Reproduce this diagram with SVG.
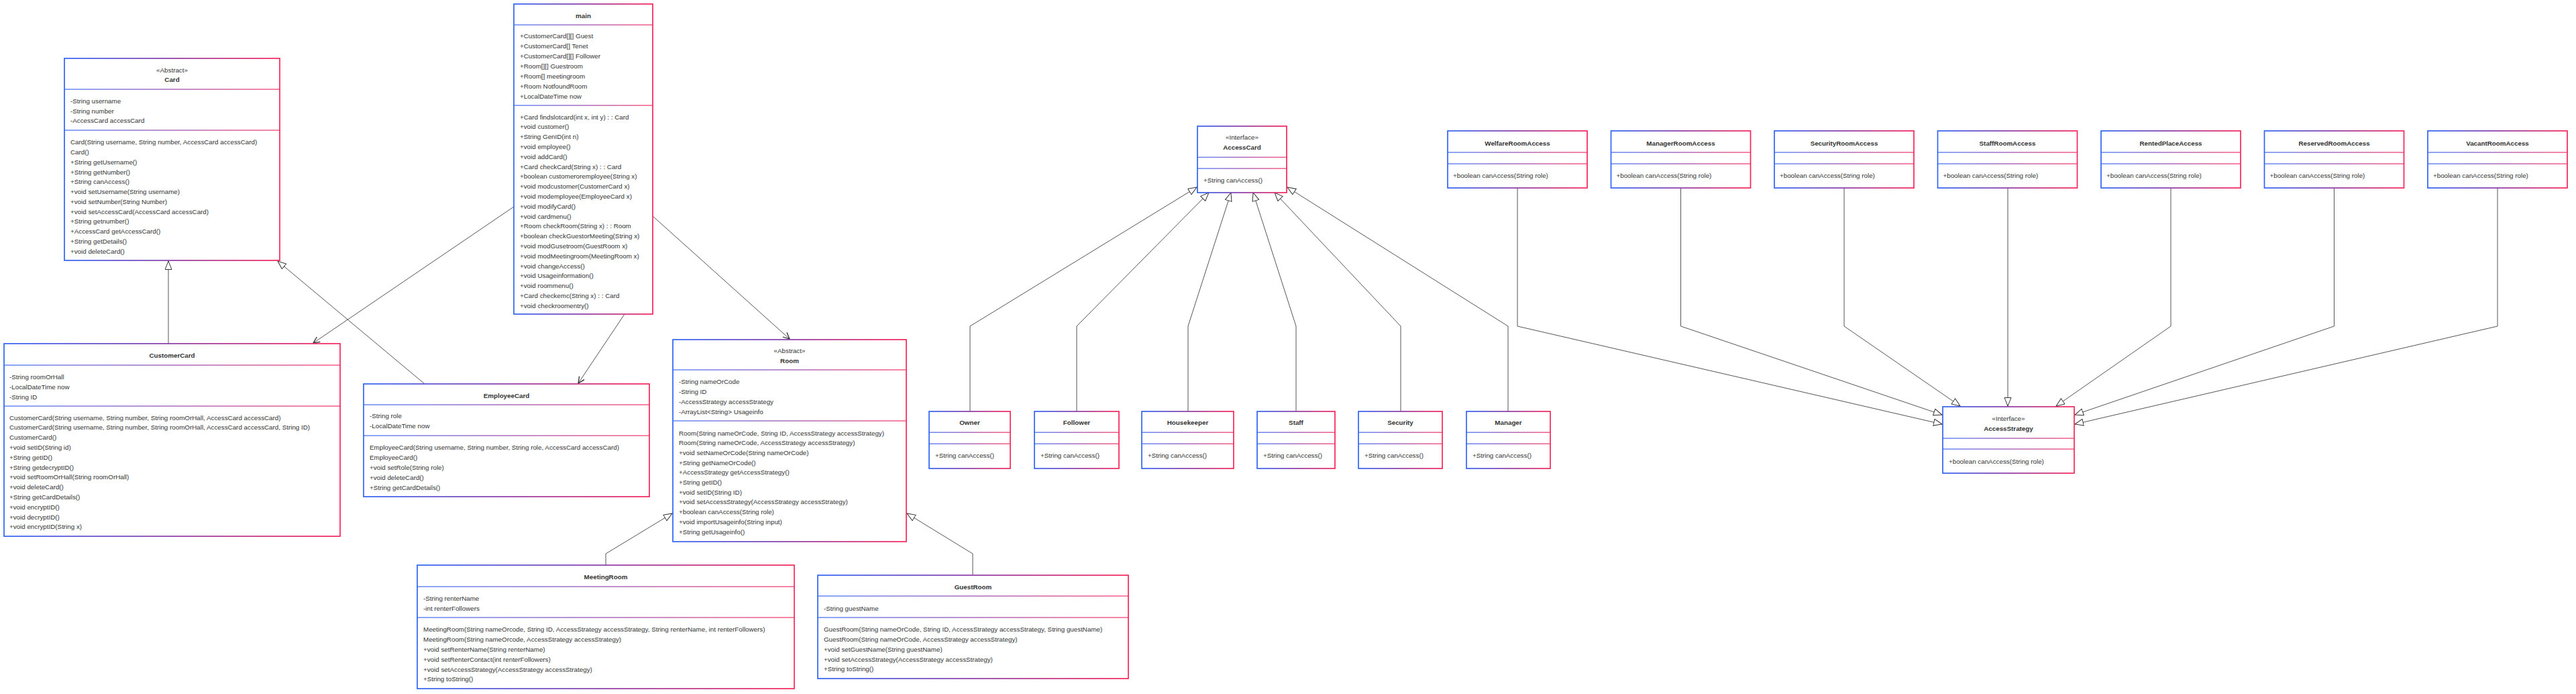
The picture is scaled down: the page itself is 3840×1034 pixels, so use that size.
<svg xmlns="http://www.w3.org/2000/svg" width="3840" height="1034" viewBox="0 0 3840 1034">
<defs>
<linearGradient id="g" x1="0" y1="0" x2="1" y2="0">
<stop offset="0" stop-color="#2f63f5"/>
<stop offset="0.5" stop-color="#8c3aa6"/>
<stop offset="1" stop-color="#f7245a"/>
</linearGradient>
<marker id="tri" markerUnits="userSpaceOnUse" markerWidth="16" markerHeight="12" refX="13" refY="5.5" orient="auto">
<path d="M0.5,0.5 L13,5.5 L0.5,10.5 z" fill="#fff" stroke="#333" stroke-width="1"/>
</marker>
<marker id="open" markerUnits="userSpaceOnUse" markerWidth="12" markerHeight="12" refX="10" refY="5" orient="auto">
<path d="M0.5,0.5 L10,5 L0.5,9.5" fill="none" stroke="#222" stroke-width="1.2"/>
</marker>
</defs>
<style>
.t{font-family:"Liberation Sans",Arial,sans-serif;font-size:9.8px;fill:#333}
.h{font-weight:bold;text-anchor:middle;fill:#333}
.c{text-anchor:middle}
.box{fill:#fff;stroke:url(#g);stroke-width:1.7}
.dv{fill:url(#g);opacity:.75}
.e{fill:none;stroke:#555;stroke-width:1}
</style>
<rect width="3840" height="1034" fill="#fff"/>

<g id="connectors">
<path class="e" d="M251,512 L251,389" marker-end="url(#tri)"/>
<path class="e" d="M633,572 L414,389" marker-end="url(#tri)"/>
<path class="e" d="M766,308 L467,511" marker-end="url(#open)"/>
<path class="e" d="M931,468 L862,571" marker-end="url(#open)"/>
<path class="e" d="M973,322 L1177,505" marker-end="url(#open)"/>
<path class="e" d="M903,842 L903,825 L1002,765" marker-end="url(#tri)"/>
<path class="e" d="M1450,857 L1450,825 L1352,765" marker-end="url(#tri)"/>
<path class="e" d="M1446,613 L1446,486 L1784,279" marker-end="url(#tri)"/>
<path class="e" d="M1605,613 L1605,486 L1802,287" marker-end="url(#tri)"/>
<path class="e" d="M1771,613 L1771,486 L1835,287" marker-end="url(#tri)"/>
<path class="e" d="M1932,613 L1932,486 L1868,287" marker-end="url(#tri)"/>
<path class="e" d="M2088,613 L2088,486 L1900,287" marker-end="url(#tri)"/>
<path class="e" d="M2248,613 L2248,486 L1919,279" marker-end="url(#tri)"/>
<path class="e" d="M2262,280 L2262,486 L2895,632" marker-end="url(#tri)"/>
<path class="e" d="M2505.5,280 L2505.5,486 L2895,618" marker-end="url(#tri)"/>
<path class="e" d="M2749,280 L2749,486 L2922,605" marker-end="url(#tri)"/>
<path class="e" d="M2993,280 L2993,605" marker-end="url(#tri)"/>
<path class="e" d="M3236,280 L3236,486 L3065,605" marker-end="url(#tri)"/>
<path class="e" d="M3479.5,280 L3479.5,486 L3093,618" marker-end="url(#tri)"/>
<path class="e" d="M3723,280 L3723,486 L3093,632" marker-end="url(#tri)"/>
</g>

<g id="Card" class="t">
<rect class="box" x="96" y="87" width="321" height="301"/>
<rect class="dv" x="96" y="132.3" width="321" height="1.5"/>
<rect class="dv" x="96" y="193.3" width="321" height="1.5"/>
<text class="c" x="256.5" y="107.5">«Abstract»</text>
<text class="h" x="256.5" y="121.5">Card</text>
<text x="105" y="153.5">-String username</text>
<text x="105" y="168.5">-String number</text>
<text x="105" y="183">-AccessCard accessCard</text>
<text x="105" y="215">Card(String username, String number, AccessCard accessCard)</text>
<text x="105" y="230">Card()</text>
<text x="105" y="245">+String getUsername()</text>
<text x="105" y="259.5">+String getNumber()</text>
<text x="105" y="274">+String canAccess()</text>
<text x="105" y="289">+void setUsername(String username)</text>
<text x="105" y="304">+void setNumber(String Number)</text>
<text x="105" y="318.5">+void setAccessCard(AccessCard accessCard)</text>
<text x="105" y="333">+String getnumber()</text>
<text x="105" y="348">+AccessCard getAccessCard()</text>
<text x="105" y="363">+String getDetails()</text>
<text x="105" y="377.5">+void deleteCard()</text>
</g>

<g id="main" class="t">
<rect class="box" x="766" y="6" width="207" height="462"/>
<rect class="dv" x="766" y="36.3" width="207" height="1.5"/>
<rect class="dv" x="766" y="156.3" width="207" height="1.5"/>
<text class="h" x="869.5" y="26.5">main</text>
<text x="775" y="56.5">+CustomerCard[][] Guest</text>
<text x="775" y="71.5">+CustomerCard[] Tenet</text>
<text x="775" y="86.5">+CustomerCard[][] Follower</text>
<text x="775" y="101.5">+Room[][] Guestroom</text>
<text x="775" y="116.5">+Room[] meetingroom</text>
<text x="775" y="131.5">+Room NotfoundRoom</text>
<text x="775" y="146.5">+LocalDateTime now</text>
<text x="775" y="177.5">+Card findslotcard(int x, int y) : : Card</text>
<text x="775" y="192.3">+void customer()</text>
<text x="775" y="207.1">+String GenID(int n)</text>
<text x="775" y="221.9">+void employee()</text>
<text x="775" y="236.7">+void addCard()</text>
<text x="775" y="251.5">+Card checkCard(String x) : : Card</text>
<text x="775" y="266.3">+boolean customeroremployee(String x)</text>
<text x="775" y="281.1">+void modcustomer(CustomerCard x)</text>
<text x="775" y="295.9">+void modemployee(EmployeeCard x)</text>
<text x="775" y="310.7">+void modifyCard()</text>
<text x="775" y="325.5">+void cardmenu()</text>
<text x="775" y="340.3">+Room checkRoom(String x) : : Room</text>
<text x="775" y="355.1">+boolean checkGuestorMeeting(String x)</text>
<text x="775" y="369.9">+void modGusetroom(GuestRoom x)</text>
<text x="775" y="384.7">+void modMeetingroom(MeetingRoom x)</text>
<text x="775" y="399.5">+void changeAccess()</text>
<text x="775" y="414.3">+void Usageinformation()</text>
<text x="775" y="429.1">+void roommenu()</text>
<text x="775" y="443.9">+Card checkemc(String x) : : Card</text>
<text x="775" y="458.7">+void checkroomentry()</text>
</g>

<g id="CustomerCard" class="t">
<rect class="box" x="6" y="512" width="501" height="287"/>
<rect class="dv" x="6" y="543.3" width="501" height="1.5"/>
<rect class="dv" x="6" y="604.3" width="501" height="1.5"/>
<text class="h" x="256.5" y="532.5">CustomerCard</text>
<text x="14" y="564.5">-String roomOrHall</text>
<text x="14" y="579.5">-LocalDateTime now</text>
<text x="14" y="594.5">-String ID</text>
<text x="14" y="625.5">CustomerCard(String username, String number, String roomOrHall, AccessCard accessCard)</text>
<text x="14" y="640.3">CustomerCard(String username, String number, String roomOrHall, AccessCard accessCard, String ID)</text>
<text x="14" y="655.1">CustomerCard()</text>
<text x="14" y="669.9">+void setID(String id)</text>
<text x="14" y="684.7">+String getID()</text>
<text x="14" y="699.5">+String getdecryptID()</text>
<text x="14" y="714.3">+void setRoomOrHall(String roomOrHall)</text>
<text x="14" y="729.1">+void deleteCard()</text>
<text x="14" y="743.9">+String getCardDetails()</text>
<text x="14" y="758.7">+void encryptID()</text>
<text x="14" y="773.5">+void decryptID()</text>
<text x="14" y="788.3">+void encryptID(String x)</text>
</g>

<g id="EmployeeCard" class="t">
<rect class="box" x="542" y="572" width="426" height="168"/>
<rect class="dv" x="542" y="602.3" width="426" height="1.5"/>
<rect class="dv" x="542" y="648.3" width="426" height="1.5"/>
<text class="h" x="755" y="592.5">EmployeeCard</text>
<text x="551" y="622.5">-String role</text>
<text x="551" y="637.5">-LocalDateTime now</text>
<text x="551" y="669.5">EmployeeCard(String username, String number, String role, AccessCard accessCard)</text>
<text x="551" y="684.5">EmployeeCard()</text>
<text x="551" y="699.5">+void setRole(String role)</text>
<text x="551" y="714.5">+void deleteCard()</text>
<text x="551" y="729.5">+String getCardDetails()</text>
</g>

<g id="Room" class="t">
<rect class="box" x="1003" y="506" width="348" height="301"/>
<rect class="dv" x="1003" y="550.3" width="348" height="1.5"/>
<rect class="dv" x="1003" y="626.3" width="348" height="1.5"/>
<text class="c" x="1177" y="525.5">«Abstract»</text>
<text class="h" x="1177" y="540.5">Room</text>
<text x="1012" y="571.5">-String nameOrCode</text>
<text x="1012" y="586.5">-String ID</text>
<text x="1012" y="601.5">-AccessStrategy accessStrategy</text>
<text x="1012" y="616.5">-ArrayList&lt;String&gt; Usageinfo</text>
<text x="1012" y="648.5">Room(String nameOrCode, String ID, AccessStrategy accessStrategy)</text>
<text x="1012" y="663.2">Room(String nameOrCode, AccessStrategy accessStrategy)</text>
<text x="1012" y="677.9">+void setNameOrCode(String nameOrCode)</text>
<text x="1012" y="692.6">+String getNameOrCode()</text>
<text x="1012" y="707.3">+AccessStrategy getAccessStrategy()</text>
<text x="1012" y="722">+String getID()</text>
<text x="1012" y="736.7">+void setID(String ID)</text>
<text x="1012" y="751.4">+void setAccessStrategy(AccessStrategy accessStrategy)</text>
<text x="1012" y="766.1">+boolean canAccess(String role)</text>
<text x="1012" y="780.8">+void importUsageinfo(String input)</text>
<text x="1012" y="795.5">+String getUsageinfo()</text>
</g>

<g id="MeetingRoom" class="t">
<rect class="box" x="622" y="842" width="562" height="184"/>
<rect class="dv" x="622" y="873.3" width="562" height="1.5"/>
<rect class="dv" x="622" y="919.3" width="562" height="1.5"/>
<text class="h" x="903" y="862.5">MeetingRoom</text>
<text x="631" y="894.5">-String renterName</text>
<text x="631" y="909.5">-int renterFollowers</text>
<text x="631" y="940.5">MeetingRoom(String nameOrcode, String ID, AccessStrategy accessStrategy, String renterName, int renterFollowers)</text>
<text x="631" y="955.5">MeetingRoom(String nameOrcode, AccessStrategy accessStrategy)</text>
<text x="631" y="970.5">+void setRenterName(String renterName)</text>
<text x="631" y="985.5">+void setRenterContact(int renterFollowers)</text>
<text x="631" y="1000.5">+void setAccessStrategy(AccessStrategy accessStrategy)</text>
<text x="631" y="1014.5">+String toString()</text>
</g>

<g id="GuestRoom" class="t">
<rect class="box" x="1219" y="857" width="463" height="154"/>
<rect class="dv" x="1219" y="887.3" width="463" height="1.5"/>
<rect class="dv" x="1219" y="919.3" width="463" height="1.5"/>
<text class="h" x="1450.5" y="877.5">GuestRoom</text>
<text x="1228" y="909.5">-String guestName</text>
<text x="1228" y="940.5">GuestRoom(String nameOrCode, String ID, AccessStrategy accessStrategy, String guestName)</text>
<text x="1228" y="955.5">GuestRoom(String nameOrCode, AccessStrategy accessStrategy)</text>
<text x="1228" y="970.5">+void setGuestName(String guestName)</text>
<text x="1228" y="985.5">+void setAccessStrategy(AccessStrategy accessStrategy)</text>
<text x="1228" y="999.5">+String toString()</text>
</g>

<g id="AccessCard" class="t">
<rect class="box" x="1785" y="188" width="133" height="99"/>
<rect class="dv" x="1785" y="233.6" width="133" height="1.5"/>
<rect class="dv" x="1785" y="250.3" width="133" height="1.5"/>
<text class="c" x="1851.5" y="207.5">«Interface»</text>
<text class="h" x="1851.5" y="222.5">AccessCard</text>
<text x="1794" y="271.5">+String canAccess()</text>
</g>

<g id="Owner" class="t">
<rect class="box" x="1385" y="613" width="121" height="85"/>
<rect class="dv" x="1385" y="643.5" width="121" height="1.5"/>
<rect class="dv" x="1385" y="660.5" width="121" height="1.5"/>
<text class="h" x="1445.5" y="633">Owner</text>
<text x="1394" y="681.5">+String canAccess()</text>
</g>
<g id="Follower" class="t">
<rect class="box" x="1542" y="613" width="126" height="85"/>
<rect class="dv" x="1542" y="643.5" width="126" height="1.5"/>
<rect class="dv" x="1542" y="660.5" width="126" height="1.5"/>
<text class="h" x="1605" y="633">Follower</text>
<text x="1551" y="681.5">+String canAccess()</text>
</g>
<g id="Housekeeper" class="t">
<rect class="box" x="1702" y="613" width="137" height="85"/>
<rect class="dv" x="1702" y="643.5" width="137" height="1.5"/>
<rect class="dv" x="1702" y="660.5" width="137" height="1.5"/>
<text class="h" x="1770.5" y="633">Housekeeper</text>
<text x="1711" y="681.5">+String canAccess()</text>
</g>
<g id="Staff" class="t">
<rect class="box" x="1874" y="613" width="116" height="85"/>
<rect class="dv" x="1874" y="643.5" width="116" height="1.5"/>
<rect class="dv" x="1874" y="660.5" width="116" height="1.5"/>
<text class="h" x="1932" y="633">Staff</text>
<text x="1883" y="681.5">+String canAccess()</text>
</g>
<g id="Security" class="t">
<rect class="box" x="2025" y="613" width="125" height="85"/>
<rect class="dv" x="2025" y="643.5" width="125" height="1.5"/>
<rect class="dv" x="2025" y="660.5" width="125" height="1.5"/>
<text class="h" x="2087.5" y="633">Security</text>
<text x="2034" y="681.5">+String canAccess()</text>
</g>
<g id="Manager" class="t">
<rect class="box" x="2186" y="613" width="125" height="85"/>
<rect class="dv" x="2186" y="643.5" width="125" height="1.5"/>
<rect class="dv" x="2186" y="660.5" width="125" height="1.5"/>
<text class="h" x="2248.5" y="633">Manager</text>
<text x="2195" y="681.5">+String canAccess()</text>
</g>

<g id="WelfareRoomAccess" class="t">
<rect class="box" x="2158" y="195" width="208" height="85"/>
<rect class="dv" x="2158" y="226.3" width="208" height="1.5"/>
<rect class="dv" x="2158" y="243.3" width="208" height="1.5"/>
<text class="h" x="2262" y="216.5">WelfareRoomAccess</text>
<text x="2166" y="264.5">+boolean canAccess(String role)</text>
</g>
<g id="ManagerRoomAccess" class="t">
<rect class="box" x="2401.5" y="195" width="208" height="85"/>
<rect class="dv" x="2401.5" y="226.3" width="208" height="1.5"/>
<rect class="dv" x="2401.5" y="243.3" width="208" height="1.5"/>
<text class="h" x="2505.5" y="216.5">ManagerRoomAccess</text>
<text x="2409.5" y="264.5">+boolean canAccess(String role)</text>
</g>
<g id="SecurityRoomAccess" class="t">
<rect class="box" x="2645" y="195" width="208" height="85"/>
<rect class="dv" x="2645" y="226.3" width="208" height="1.5"/>
<rect class="dv" x="2645" y="243.3" width="208" height="1.5"/>
<text class="h" x="2749" y="216.5">SecurityRoomAccess</text>
<text x="2653" y="264.5">+boolean canAccess(String role)</text>
</g>
<g id="StaffRoomAccess" class="t">
<rect class="box" x="2888.5" y="195" width="208" height="85"/>
<rect class="dv" x="2888.5" y="226.3" width="208" height="1.5"/>
<rect class="dv" x="2888.5" y="243.3" width="208" height="1.5"/>
<text class="h" x="2992.5" y="216.5">StaffRoomAccess</text>
<text x="2896.5" y="264.5">+boolean canAccess(String role)</text>
</g>
<g id="RentedPlaceAccess" class="t">
<rect class="box" x="3132" y="195" width="208" height="85"/>
<rect class="dv" x="3132" y="226.3" width="208" height="1.5"/>
<rect class="dv" x="3132" y="243.3" width="208" height="1.5"/>
<text class="h" x="3236" y="216.5">RentedPlaceAccess</text>
<text x="3140" y="264.5">+boolean canAccess(String role)</text>
</g>
<g id="ReservedRoomAccess" class="t">
<rect class="box" x="3375.5" y="195" width="208" height="85"/>
<rect class="dv" x="3375.5" y="226.3" width="208" height="1.5"/>
<rect class="dv" x="3375.5" y="243.3" width="208" height="1.5"/>
<text class="h" x="3479.5" y="216.5">ReservedRoomAccess</text>
<text x="3383.5" y="264.5">+boolean canAccess(String role)</text>
</g>
<g id="VacantRoomAccess" class="t">
<rect class="box" x="3619" y="195" width="208" height="85"/>
<rect class="dv" x="3619" y="226.3" width="208" height="1.5"/>
<rect class="dv" x="3619" y="243.3" width="208" height="1.5"/>
<text class="h" x="3723" y="216.5">VacantRoomAccess</text>
<text x="3627" y="264.5">+boolean canAccess(String role)</text>
</g>

<g id="AccessStrategy" class="t">
<rect class="box" x="2896" y="606" width="196" height="99"/>
<rect class="dv" x="2896" y="652.3" width="196" height="1.5"/>
<rect class="dv" x="2896" y="668.3" width="196" height="1.5"/>
<text class="c" x="2994" y="626.5">«Interface»</text>
<text class="h" x="2994" y="641.5">AccessStrategy</text>
<text x="2905" y="690.5">+boolean canAccess(String role)</text>
</g>
</svg>
